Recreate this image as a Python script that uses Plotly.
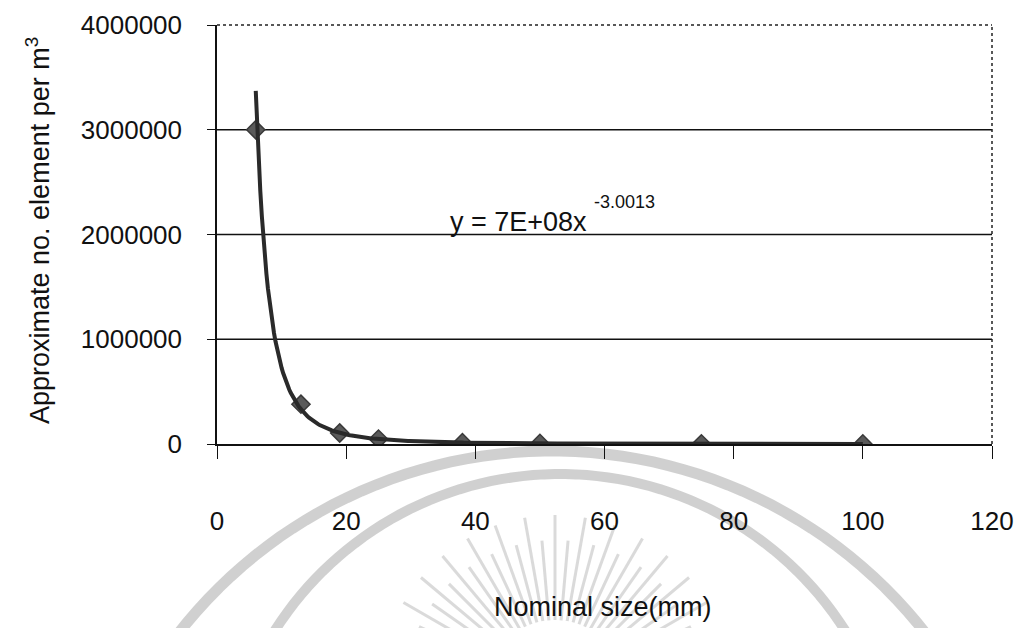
import numpy as np
import plotly.graph_objects as go

# ---- data ----
nominal_size = [6, 13, 19, 25, 38, 50, 75, 100]
elements_per_m3 = [3000000, 380000, 105000, 47000, 13000, 5800, 1700, 730]

# power trend line as displayed: y = a * x^b
trend_a = 7.3e8
trend_b = -3.0013
trend_label = "y = 7E+08x"
trend_exp_label = "-3.0013"

x_ticks = [0, 20, 40, 60, 80, 100, 120]
y_ticks = [0, 1000000, 2000000, 3000000, 4000000]
y_tick_text = ["0", "1000000", "2000000", "3000000", "4000000"]

x_title = "Nominal size(mm)"
y_title = "Approximate no. element per m<sup>3</sup>"

FONT = "Liberation Sans, Arial, sans-serif"

# layout geometry (pixels)
W, H = 1017, 628
L, R, T, B = 217, 25, 25, 184
PW, PH = W - L - R, H - T - B


def px2paper(px, py):
    return (px - L) / PW, (H - B - py) / PH


fig = go.Figure()

# markers
fig.add_trace(go.Scatter(
    x=nominal_size, y=elements_per_m3, mode="markers",
    marker=dict(symbol="diamond", size=14, color="#5a5a5a",
                line=dict(color="#3a3a3a", width=1.5)),
    showlegend=False, hoverinfo="x+y"))

# trend line
xt = np.linspace(min(nominal_size), max(nominal_size), 400)
fig.add_trace(go.Scatter(
    x=xt, y=trend_a * xt ** trend_b, mode="lines",
    line=dict(color="#2a2a2a", width=4),
    showlegend=False, hoverinfo="skip"))

shapes = []
# horizontal gridlines
for v in y_ticks[1:-1]:
    shapes.append(dict(type="line", xref="paper", x0=0, x1=1, yref="y", y0=v, y1=v,
                       line=dict(color="#111111", width=1.3), layer="below"))
# dotted top and right frame
shapes.append(dict(type="line", xref="paper", x0=0, x1=1, yref="paper", y0=1, y1=1,
                   line=dict(color="#222222", width=1.5, dash="dot")))
shapes.append(dict(type="line", xref="paper", x0=1, x1=1, yref="paper", y0=0, y1=1,
                   line=dict(color="#222222", width=1.5, dash="dot")))

# faint watermark (scanned page background): two arcs and a ray burst
def arc_path(cx, cy, r, a0, a1, n=80):
    pts = []
    for a in np.linspace(np.radians(a0), np.radians(a1), n):
        px, py = cx + r * np.cos(a), cy - r * np.sin(a)
        pts.append(px2paper(px, py))
    return "M " + " L ".join(f"{p[0]:.4f},{p[1]:.4f}" for p in pts)

wm = "rgba(150,150,150,0.45)"
shapes.append(dict(type="path", xref="paper", yref="paper",
                   path=arc_path(552, 925, 474, 15, 165),
                   line=dict(color=wm, width=11), layer="below"))
shapes.append(dict(type="path", xref="paper", yref="paper",
                   path=arc_path(560, 812, 338, 18, 162),
                   line=dict(color=wm, width=10), layer="below"))
for ang in np.linspace(25, 155, 27):
    a = np.radians(ang)
    r0, r1 = 70, 175 if int(ang) % 2 == 0 else 150
    x0, y0 = px2paper(555 + r0 * np.cos(a), 690 - r0 * np.sin(a))
    x1, y1 = px2paper(555 + r1 * np.cos(a), 690 - r1 * np.sin(a))
    shapes.append(dict(type="line", xref="paper", yref="paper", x0=x0, y0=y0, x1=x1, y1=y1,
                       line=dict(color="rgba(150,150,150,0.35)", width=3), layer="below"))

annotations = []
# equation
ex, ey = px2paper(448, 222)
annotations.append(dict(xref="paper", yref="paper", x=ex, y=ey, xanchor="left", yanchor="middle",
                        text=trend_label, showarrow=False,
                        font=dict(family=FONT, size=27, color="#111111")))
sx, sy = px2paper(592, 202)
annotations.append(dict(xref="paper", yref="paper", x=sx, y=sy, xanchor="left", yanchor="middle",
                        text=trend_exp_label, showarrow=False,
                        font=dict(family=FONT, size=18, color="#111111")))
# axis titles
tx, ty = px2paper(603, 607)
annotations.append(dict(xref="paper", yref="paper", x=tx, y=ty, xanchor="center", yanchor="middle",
                        text=x_title, showarrow=False,
                        font=dict(family=FONT, size=27, color="#111111")))
yx, yy = px2paper(38, 231)
annotations.append(dict(xref="paper", yref="paper", x=yx, y=yy, xanchor="center", yanchor="middle",
                        text=y_title, textangle=-90, showarrow=False,
                        font=dict(family=FONT, size=27, color="#111111")))

fig.update_layout(
    width=W, height=H, autosize=False,
    margin=dict(l=L, r=R, t=T, b=B, pad=0, autoexpand=False),
    paper_bgcolor="white", plot_bgcolor="white",
    font=dict(family=FONT, size=26, color="#111111"),
    shapes=shapes, annotations=annotations,
    xaxis=dict(range=[0, 120], tickvals=x_ticks, ticktext=[str(v) for v in x_ticks],
               showgrid=False, zeroline=False, showline=True, linecolor="#111111", linewidth=1.5,
               ticks="outside", ticklen=13, tickwidth=1.3, tickcolor="#111111", automargin=False,
               ticklabelstandoff=40, tickfont=dict(size=26)),
    yaxis=dict(range=[0, 4000000], tickvals=y_ticks, ticktext=y_tick_text,
               showgrid=False, zeroline=False, showline=True, linecolor="#111111", linewidth=1.5,
               ticks="outside", ticklen=8, tickwidth=1.3, tickcolor="#111111", automargin=False,
               ticklabelstandoff=20, tickfont=dict(size=26)),
)

fig.write_html("out.html")
